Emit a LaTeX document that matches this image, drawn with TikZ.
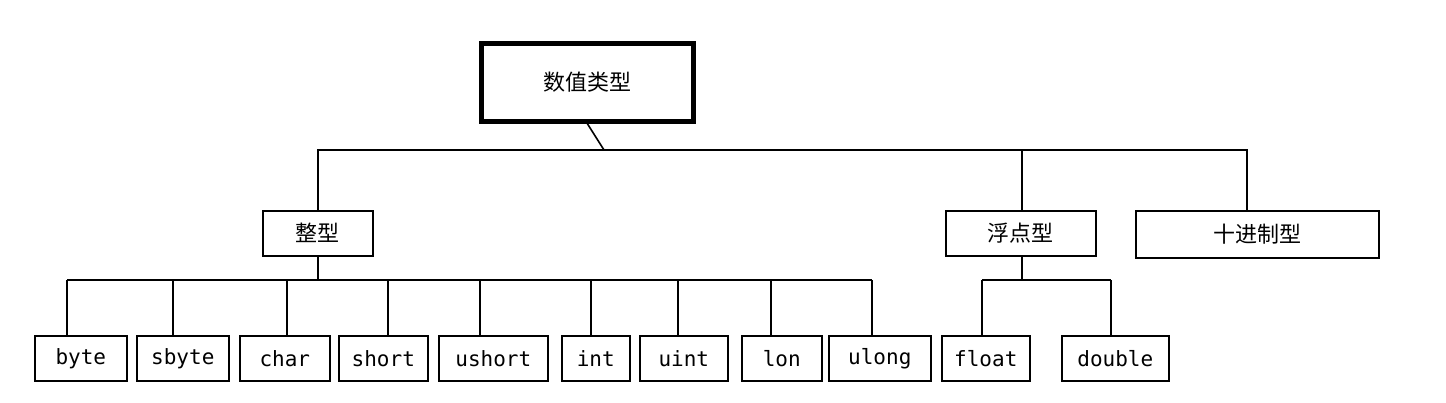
\documentclass[tikz,border=0pt]{standalone}
\usepackage{fontspec}
\newfontfamily\cjk{Noto Sans CJK SC}
\setmonofont{DejaVu Sans Mono}
\begin{document}
\begin{tikzpicture}[x=1pt,y=-1pt,
  bx/.style={draw,line width=1.6pt,inner sep=0pt,anchor=north west},
  cn/.style={font=\cjk\fontsize{22}{24}\selectfont},
  en/.style={font=\ttfamily\fontsize{21}{24}\selectfont},
  ln/.style={line width=1.6pt}]
\useasboundingbox (0,0) rectangle (1446,402);
\node[bx,line width=4.5pt,minimum width=212,minimum height=78,cn] (root) at (479,41) {数值类型};
\node[bx,minimum width=110,minimum height=45,cn] (zx) at (262,210) {整型};
\node[bx,minimum width=150,minimum height=45,cn] (fd) at (945,210) {浮点型};
\node[bx,minimum width=243,minimum height=47,cn] (sj) at (1135,210) {十进制型};
\foreach \n/\t/\a/\b in {byte/byte/34/126, sbyte/sbyte/136/228, char/char/239/329, short/short/338/427, ushort/ushort/438/547, int/int/561/629, uint/uint/639/727, lon/lon/741/821, ulong/ulong/828/930, float/float/941/1029, double/double/1061/1168}
  \node[bx,minimum width=\b-\a,minimum height=45,en] (\n) at (\a,335) {\t};
\coordinate (t) at (604,150);
\coordinate (tl) at (318,150);
\coordinate (tf) at (1022,150);
\coordinate (tr) at (1247,150);
\draw[ln] (root.south) -- (t);
\draw[ln] (tl |- zx.north) -- (tl) -- (tr) -- (tr |- sj.north);
\draw[ln] (tf) -- (tf |- fd.north);
\coordinate (zb) at (318,280);
\draw[ln] (zb |- zx.south) -- (zb);
\draw[ln] (67,280) -- (872,280);
\foreach \n/\x in {byte/67,sbyte/173,char/287,short/388,ushort/480,int/591,uint/678,lon/771,ulong/872}{
  \coordinate (c\n) at (\x,280);
  \draw[ln] (c\n) -- (c\n |- \n.north);}
\coordinate (fb) at (1022,280);
\draw[ln] (fb |- fd.south) -- (fb);
\draw[ln] (982,280) -- (1111,280);
\foreach \n/\x in {float/982,double/1111}{
  \coordinate (c\n) at (\x,280);
  \draw[ln] (c\n) -- (c\n |- \n.north);}
\end{tikzpicture}
\end{document}
